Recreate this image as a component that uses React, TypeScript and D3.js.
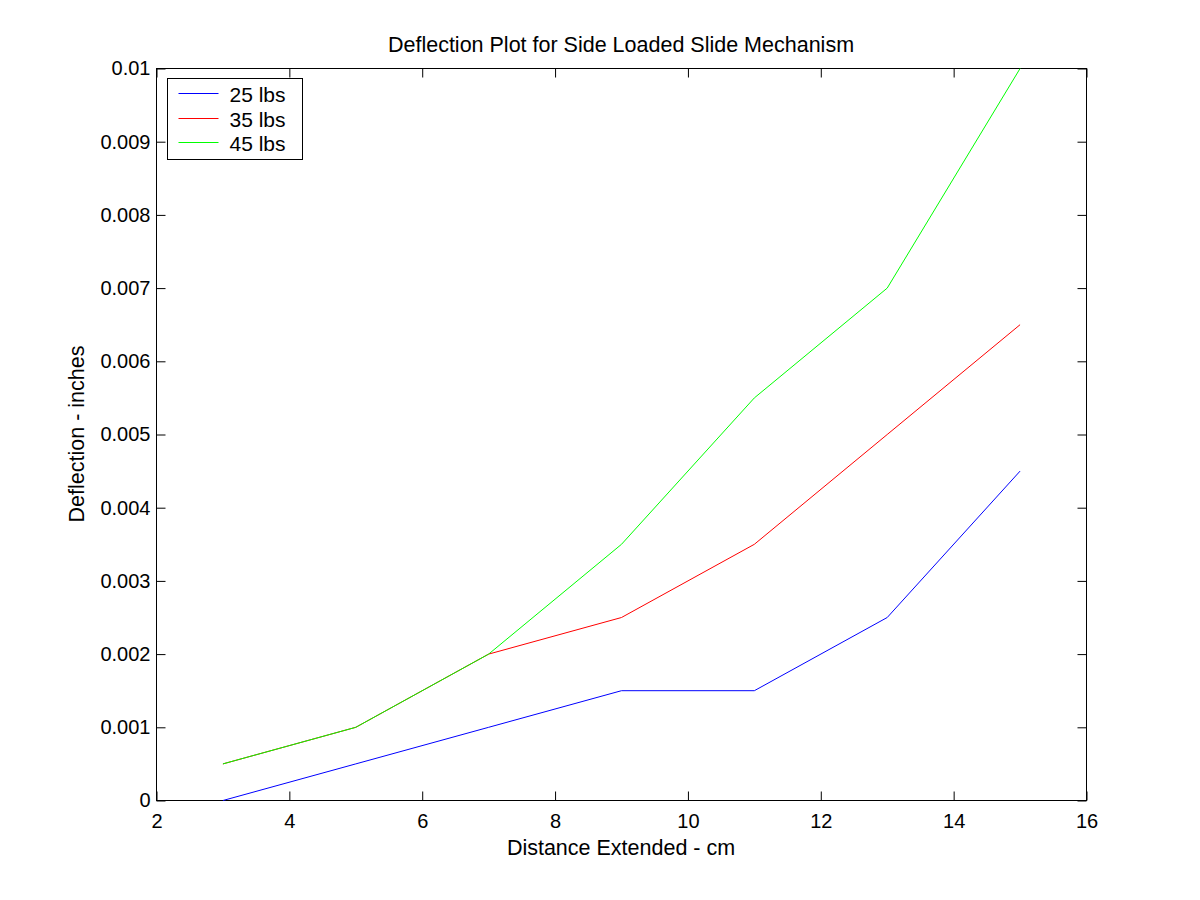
import * as d3 from 'd3';
import { useEffect, useRef } from 'react';

const distances = [3, 5, 7, 9, 11, 13, 15];
const load25 = [0, 0.0005, 0.001, 0.0015, 0.0015, 0.0025, 0.0045];
const load35 = [0.0005, 0.001, 0.002, 0.0025, 0.0035, 0.005, 0.0065];
const load45 = [0.0005, 0.001, 0.002, 0.0035, 0.0055, 0.007, 0.01];
const seriesNames = ['25 lbs', '35 lbs', '45 lbs'];
const seriesColors = ['#0000ff', '#ff0000', '#00ff00'];
const xTicks = [2, 4, 6, 8, 10, 12, 14, 16];
const yTicks = [0, 0.001, 0.002, 0.003, 0.004, 0.005, 0.006, 0.007, 0.008, 0.009, 0.01];

const App = () => {
    const svgRef = useRef<SVGSVGElement>(null);

    useEffect(() => {
        const svg = d3.select(svgRef.current);
        svg.selectAll('*').remove();

        const width = 1200;
        const height = 900;
        const margin = { top: 68, right: 114, bottom: 100, left: 156 };
        const innerWidth = width - margin.left - margin.right;
        const innerHeight = height - margin.top - margin.bottom;
        const font = 'Liberation Sans, Arial, sans-serif';

        const xScale = d3.scaleLinear().domain([2, 16]).range([0, innerWidth]);
        const yScale = d3.scaleLinear().domain([0, 0.01]).range([innerHeight, 0]);

        svg.append('rect').attr('width', width).attr('height', height).attr('fill', '#ffffff');

        const g = svg.append('g').attr('transform', `translate(${margin.left + 0.5},${margin.top + 0.5})`);

        // Axes with inward ticks on all sides
        const styleAxis = (sel: d3.Selection<SVGGElement, unknown, null, undefined>) => {
            sel.select('.domain').remove();
            sel.selectAll('line').attr('stroke', '#000').attr('stroke-width', 1);
            sel.selectAll('text').attr('fill', '#000').style('font-family', font).style('font-size', '20px');
        };

        const bottom = g.append('g')
            .attr('transform', `translate(0,${innerHeight})`)
            .call(d3.axisBottom(xScale).tickValues(xTicks).tickSizeInner(-9).tickSizeOuter(0).tickPadding(13).tickFormat(d3.format('d')));
        styleAxis(bottom);

        const top = g.append('g')
            .call(d3.axisTop(xScale).tickValues(xTicks).tickSizeInner(-9).tickSizeOuter(0).tickFormat(() => ''));
        styleAxis(top);

        const left = g.append('g')
            .call(d3.axisLeft(yScale).tickValues(yTicks).tickSizeInner(-9).tickSizeOuter(0).tickPadding(6).tickFormat((d) => String(+d)));
        styleAxis(left);

        const right = g.append('g')
            .attr('transform', `translate(${innerWidth},0)`)
            .call(d3.axisRight(yScale).tickValues(yTicks).tickSizeInner(-9).tickSizeOuter(0).tickFormat(() => ''));
        styleAxis(right);

        g.append('rect')
            .attr('width', innerWidth)
            .attr('height', innerHeight)
            .attr('fill', 'none')
            .attr('stroke', '#000')
            .attr('stroke-width', 1);

        // Lines
        const allSeries = [load25, load35, load45];
        const line = d3.line<number>()
            .x((_, i) => xScale(distances[i]))
            .y((d) => yScale(d));

        allSeries.forEach((values, i) => {
            g.append('path')
                .datum(values)
                .attr('fill', 'none')
                .attr('stroke', seriesColors[i])
                .attr('stroke-width', 1)
                .attr('d', line);
        });

        // Labels
        svg.append('text')
            .attr('x', margin.left + innerWidth / 2)
            .attr('y', 52)
            .attr('text-anchor', 'middle')
            .style('font-family', font)
            .style('font-size', '21.5px')
            .text('Deflection Plot for Side Loaded Slide Mechanism');

        svg.append('text')
            .attr('x', margin.left + innerWidth / 2)
            .attr('y', 855)
            .attr('text-anchor', 'middle')
            .style('font-family', font)
            .style('font-size', '21.5px')
            .text('Distance Extended - cm');

        svg.append('text')
            .attr('transform', `translate(84,${margin.top + innerHeight / 2}) rotate(-90)`)
            .attr('text-anchor', 'middle')
            .style('font-family', font)
            .style('font-size', '21.5px')
            .text('Deflection - inches');

        // Legend
        const legend = svg.append('g').attr('transform', 'translate(167.5,78.5)');
        legend.append('rect')
            .attr('width', 135)
            .attr('height', 81)
            .attr('fill', '#ffffff')
            .attr('stroke', '#000');
        seriesNames.forEach((name, i) => {
            const y = 15 + Math.round(i * 24.5);
            legend.append('line')
                .attr('x1', 11).attr('x2', 51)
                .attr('y1', y).attr('y2', y)
                .attr('stroke', seriesColors[i]);
            legend.append('text')
                .attr('x', 62)
                .attr('y', y + 8)
                .style('font-family', font)
                .style('font-size', '21px')
                .text(name);
        });
    }, []);

    return (
        <svg ref={svgRef} width={1200} height={900} style={{ display: 'block', margin: '-8px' }}></svg>
    );
};

export default App;
